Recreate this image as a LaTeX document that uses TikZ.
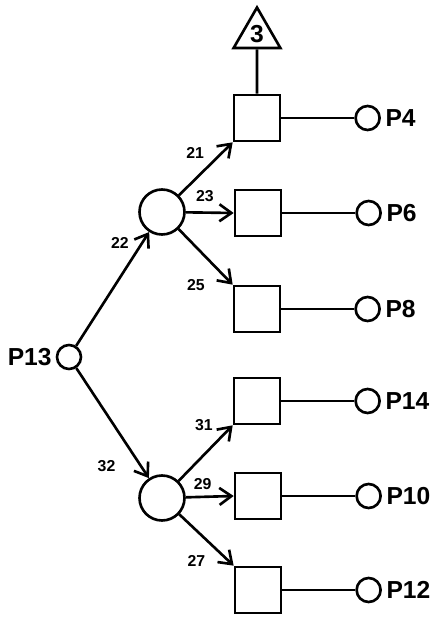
\documentclass[tikz,border=0pt]{standalone}
\usepackage{fontspec}
\setmainfont{Liberation Sans}
\usetikzlibrary{positioning,arrows.meta,shapes.geometric}

\begin{document}
\begin{tikzpicture}[
  font=\bfseries,
  line width=1.5pt,
  hub/.style={draw, circle, minimum size=9mm, inner sep=0pt},
  port/.style={draw, circle, minimum size=4.8mm, inner sep=0pt},
  box/.style={draw, minimum size=9.2mm, inner sep=0pt},
  pname/.style={font=\fontsize{14}{14}\selectfont\bfseries, inner sep=1pt},
  num/.style={font=\fontsize{9}{9}\selectfont\bfseries, inner sep=1pt},
  arr/.style={-{Straight Barb[length=2.4mm, width=3.4mm]}},
  node distance=1.46cm]
\useasboundingbox (0,0) rectangle (8.64,12.34);
% source and the two hubs
\node[port] (p13) at (1.38,5.20) {};
\node[pname, left=0.2mm of p13] {P13};
\node[hub] (ha) at (3.24,8.10) {};
\node[hub] (hb) at (3.24,2.38) {};
% boxes
\node[box] (b4) at (5.14,9.98) {};
\node[box] (b6) at (5.16,8.08) {};
\node[box] (b8) at (5.14,6.16) {};
\node[box] (b14) at (5.14,4.32) {};
\node[box] (b10) at (5.16,2.42) {};
\node[box] (b12) at (5.16,0.54) {};
\node[draw, regular polygon, regular polygon sides=3, minimum size=10.8mm, inner sep=0pt,
  font=\fontsize{14}{14}\selectfont\bfseries] (t3) at (5.14,11.65) {3};
% outputs
\node[port, right=of b4] (p4) {};
\node[pname, right=0.3mm of p4] {P4};
\node[port, right=of b6] (p6) {};
\node[pname, right=0.3mm of p6] {P6};
\node[port, right=of b8] (p8) {};
\node[pname, right=0.3mm of p8] {P8};
\node[port, right=of b14] (p14) {};
\node[pname, right=0.3mm of p14] {P14};
\node[port, right=of b10] (p10) {};
\node[pname, right=0.3mm of p10] {P10};
\node[port, right=of b12] (p12) {};
\node[pname, right=0.3mm of p12] {P12};
\draw[arr] (p13) -- node[num, pos=0.9, left=2mm]{22} (ha);
\draw[arr] (p13) -- node[num, pos=0.89, left=4.5mm]{32} (hb);
\draw[arr] (ha) -- node[num, pos=0.8, left=3mm]{21} (b4.south west);
\draw[arr] (ha) -- node[num, pos=0.4, above=1.5mm]{23} (b6.west);
\draw[arr] (ha) -- node[num, pos=1, left=5mm]{25} (b8.north west);
\draw[arr] (hb) -- node[num, pos=1, left=3.4mm]{31} (b14.south west);
\draw[arr] (hb) -- node[num, pos=0.35, above=0.8mm]{29} (b10.west);
\draw[arr] (hb) -- node[num, pos=0.9, left=4mm]{27} (b12.north west);
\draw (t3) -- (b4);
\draw (b4) -- (p4);
\draw (b6) -- (p6);
\draw (b8) -- (p8);
\draw (b14) -- (p14);
\draw (b10) -- (p10);
\draw (b12) -- (p12);
\end{tikzpicture}
\end{document}
